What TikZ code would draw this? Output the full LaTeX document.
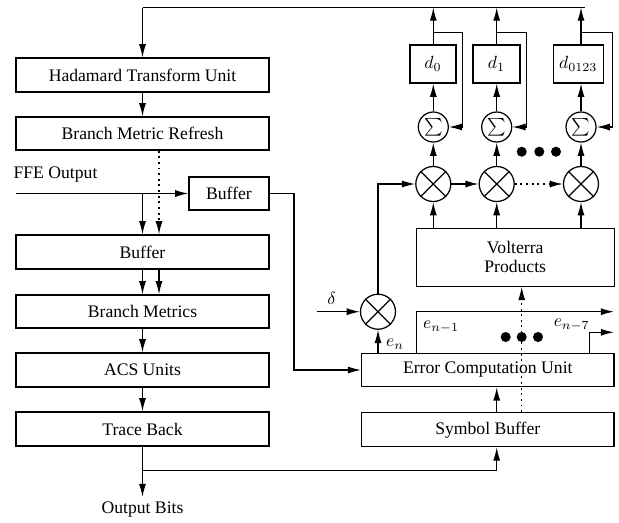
\documentclass[tikz,border=0pt]{standalone}
\usepackage[no-math]{fontspec}
\setmainfont{Liberation Serif}
\usetikzlibrary{arrows.meta,calc}
\def\pxl{0.567}
\tikzset{
  bx/.style 2 args={draw, rectangle, minimum width=#1*\pxl pt, minimum height=#2*\pxl pt, inner sep=0pt},
  mul/.style={draw, circle, minimum size=35*\pxl pt, inner sep=0pt},
  sm/.style={draw, circle, minimum size=30*\pxl pt, inner sep=0pt, font=\large},
  dot/.style={dash pattern=on 1.1pt off 2.1pt},
  lbl/.style={inner sep=0pt},
}
\begin{document}
\begin{tikzpicture}[x=0.567pt, y=-0.567pt, line width=0.7pt, font=\rmfamily,
  >={Latex[length=7.5pt,width=4pt]}]
\useasboundingbox (0,0) rectangle (619,522);

% Viterbi decoder column
\node[bx={253}{34}] (had) at (142.5,75) {Hadamard Transform Unit};
\node[bx={253}{33}] (bmr) at (142.5,133.5) {Branch Metric Refresh};
\node[bx={253}{34}] (buf) at (142.5,252) {Buffer};
\node[bx={253}{33}] (bm) at (142.5,311.5) {Branch Metrics};
\node[bx={253}{34}] (acs) at (142.5,370) {ACS Units};
\node[bx={253}{34}] (tb) at (142.5,429) {Trace Back};
\node[bx={80}{33}] (buf2) at (229,193.5) {Buffer};
\node[lbl, anchor=west] (ffe) at (13,175) {FFE Output};
\node[lbl] (outb) at (142.5,510) {Output Bits};

% adaptation blocks
\node[bx={198}{58}, align=center] (vol) at (515.2,257.2) {Volterra\\[-1.5pt]Products};
\node[bx={252.3}{33.4}] (ecu) at (487.8,370) {Error Computation Unit};
\node[bx={252.3}{34}] (sb) at (487.8,429.7) {Symbol Buffer};
\node[bx={46}{38}] (d0) at (433,64) {$d_0$};
\node[bx={47}{38}] (d1) at (496.5,64) {$d_1$};
\node[bx={50}{38}] (d3) at (578.3,64) {$d_{0123}$};

% multipliers and accumulators
\node[mul] (m0) at (378,311.7) {};
\node[mul] (m1) at (433.3,184) {};
\node[mul] (m2) at (496.7,184) {};
\node[mul] (m3) at (581,184) {};
\foreach \m in {m0,m1,m2,m3}
  \draw (\m.north west) -- (\m.south east) (\m.north east) -- (\m.south west);
\node[sm] (s1) at (433.3,127) {$\sum$};
\node[sm] (s2) at (496.7,127) {$\sum$};
\node[sm] (s3) at (581,127) {$\sum$};

% helper coordinates
\coordinate (tl) at (142.5,7.5);
\coordinate (tr) at (585,7.5);
\coordinate (xa) at (159,0);
\coordinate (xb) at (294,0);
\coordinate (xc) at (496.7,0);
\coordinate (xd) at (521.7,0);
\coordinate (fin) at (16,193.5);
\coordinate (ob) at (142.5,497);
\coordinate (br) at (142.5,470.7);
\coordinate (din) at (316.7,311.7);
\coordinate (e1) at (416.7,0);
\coordinate (e7) at (589.3,0);
\coordinate (oe1) at (614,311.7);
\coordinate (oe7) at (614,332.3);
\coordinate (f1) at (462.7,32.3);
\coordinate (f2) at (526.7,32.3);
\coordinate (f3) at (612.7,32.3);

% left column connectors
\draw (tl) -- (tr);
\draw[->] (tl) -- (had.north);
\draw[->] (had.south) -- (bmr.north);
\draw[->, dot] (bmr.south -| xa) -- (buf.north -| xa);
\draw[->] (fin) -- (buf2.west);
\draw[->] (fin -| buf.north) -- (buf.north);
\draw[->] (buf2.east) -| (xb |- ecu.west) -- (ecu.west);
\draw[->] (buf.south) -- (bm.north);
\draw[->] (buf.south -| xa) -- (bm.north -| xa);
\draw[->] (bm.south) -- (acs.north);
\draw[->] (acs.south) -- (tb.north);
\draw[->] (tb.south) -- (ob);
\draw[->] (br) -| (sb.south -| xc);

% error path
\draw[->] (sb.north -| xc) -- (ecu.south -| xc);
\draw[->, dot] (sb.north -| xd) -- (vol.south -| xd);
\draw[->] (ecu.north -| m0) -- (m0.south);
\node[lbl] at (395,344) {$e_n$};
\draw[->] (din) -- (m0.west);
\node[lbl] at (331.7,298) {$\delta$};
\draw[->] (m0.north) |- (m1.west);
\draw[->] (ecu.north -| e1) |- (oe1);
\draw[->] (ecu.north -| e7) |- (oe7);
\node[lbl] at (441,327) {$e_{n-1}$};
\node[lbl] at (571.7,325) {$e_{n-7}$};
\foreach \x in {505.7,521.7,538} \fill (\x,337) circle (2.85pt);

% coefficient update lanes
\draw[->] (m1.east) -- (m2.west);
\draw[->, dot] (m2.east) -- (m3.west);
\foreach \m/\s/\d/\f in {m1/s1/d0/f1, m2/s2/d1/f2, m3/s3/d3/f3} {
  \draw[->] (vol.north -| \m) -- (\m.south);
  \draw[->] (\m.north) -- (\s.south);
  \draw[->] (\s.north) -- (\d.south -| \s);
  \draw[->] (\d.north -| \s) -- (tl -| \s);
  \draw[->] (\s |- \f) -- (\f) -- (\f |- \s) -- (\s.east);
}
\foreach \x in {521.7,539.3,556} \fill (\x,151.7) circle (2.85pt);
\end{tikzpicture}
\end{document}
